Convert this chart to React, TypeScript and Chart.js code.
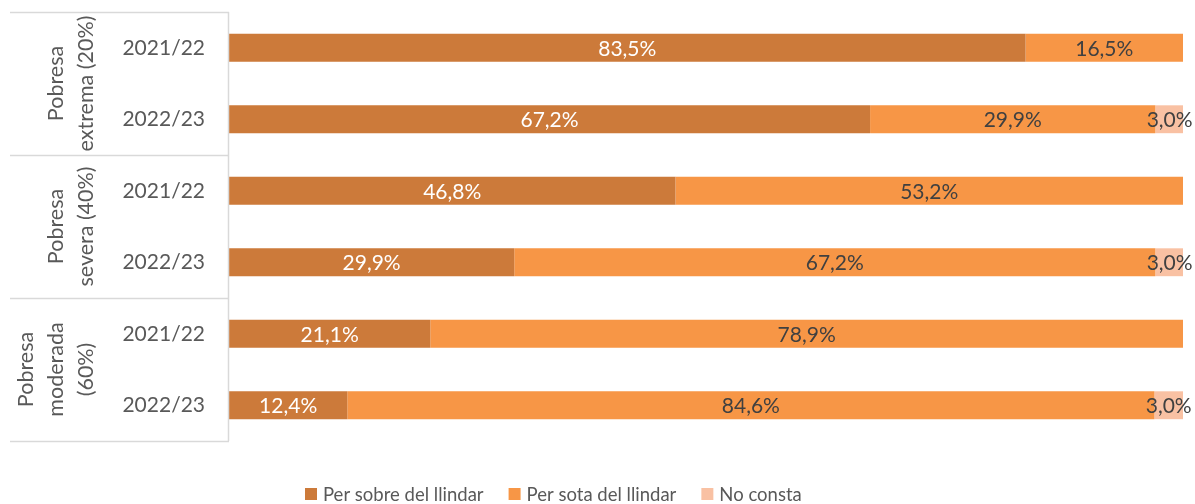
import React, { useEffect, useRef } from "react";
import { Chart, registerables } from "chart.js";

Chart.register(...registerables);

const years = ["2021/22", "2022/23", "2021/22", "2022/23", "2021/22", "2022/23"];
const groups = [
  ["Pobresa", "extrema (20%)"],
  ["Pobresa", "severa (40%)"],
  ["Pobresa", "moderada", "(60%)"],
];
const seriesNames = ["Per sobre del llindar", "Per sota del llindar", "No consta"];
const sobre = [83.5, 67.2, 46.8, 29.9, 21.1, 12.4];
const sota = [16.5, 29.9, 53.2, 67.2, 78.9, 84.6];
const noConsta = [0, 3.0, 0, 3.0, 0, 3.0];

const COLORS = ["#CC7A3A", "#F79646", "#F9C1A3"];
const FONT = "Lato";
const GRAY = "#595959";
const LINE = "#D9D9D9";

const fmt = (v: number) => v.toFixed(1).replace(".", ",") + "%";

const decorPlugin = {
  id: "decor",
  afterDatasetsDraw(chart: any) {
    const ctx = chart.ctx;
    ctx.save();
    ctx.font = `21px ${FONT}`;
    ctx.textAlign = "center";
    ctx.textBaseline = "middle";
    chart.data.datasets.forEach((ds: any, di: number) => {
      const meta = chart.getDatasetMeta(di);
      meta.data.forEach((el: any, i: number) => {
        const v = ds.data[i];
        if (!v) return;
        const cx = (el.x + el.base) / 2;
        ctx.fillStyle = di === 0 ? "#FFFFFF" : "#404040";
        ctx.fillText(fmt(v), cx, el.y + 1);
      });
    });
    ctx.restore();
  },
  afterDraw(chart: any) {
    const ctx = chart.ctx;
    const ca = chart.chartArea;
    ctx.save();
    ctx.strokeStyle = LINE;
    ctx.lineWidth = 1.5;
    ctx.beginPath();
    ctx.moveTo(ca.left - 0.5, ca.top);
    ctx.lineTo(ca.left - 0.5, ca.bottom);
    const n = years.length;
    const step = (ca.bottom - ca.top) / n;
    for (let g = 0; g <= groups.length; g++) {
      const y = Math.round(ca.top + g * 2 * step) + 0.5;
      ctx.moveTo(10, y);
      ctx.lineTo(ca.left, y);
    }
    ctx.stroke();
    ctx.fillStyle = GRAY;
    ctx.font = `21.5px ${FONT}`;
    ctx.textAlign = "center";
    ctx.textBaseline = "middle";
    groups.forEach((lines, g) => {
      const cy = ca.top + (g * 2 + 1) * step;
      const lastX = 86;
      const lh = 30;
      lines.forEach((t, li) => {
        const x = lastX - (lines.length - 1 - li) * lh;
        ctx.save();
        ctx.translate(x, cy);
        ctx.rotate(-Math.PI / 2);
        ctx.fillText(t, 0, 0);
        ctx.restore();
      });
    });
    ctx.font = `18.5px ${FONT}`;
    ctx.textBaseline = "middle";
    ctx.textAlign = "left";
    const box = 12;
    const gapBox = 6;
    const gapItem = 25;
    const widths = chart.data.datasets.map((d: any) => ctx.measureText(d.label).width);
    let x = 305;
    const ly = 494;
    chart.data.datasets.forEach((d: any, i: number) => {
      ctx.fillStyle = d.backgroundColor;
      ctx.fillRect(x, ly - box / 2, box, box);
      x += box + gapBox;
      ctx.fillStyle = GRAY;
      ctx.fillText(d.label, x, ly + 1);
      x += widths[i] + gapItem;
    });
    ctx.restore();
  },
};

export default function App() {
  const ref = useRef<HTMLCanvasElement | null>(null);
  useEffect(() => {
    document.body.style.margin = "0";
    const data = [sobre, sota, noConsta];
    const chart = new Chart(ref.current as HTMLCanvasElement, {
      type: "bar",
      data: {
        labels: years,
        datasets: seriesNames.map((name, i) => ({
          label: name,
          data: data[i],
          backgroundColor: COLORS[i],
          borderWidth: 0,
          barPercentage: 0.39,
          categoryPercentage: 1,
        })),
      },
      options: {
        indexAxis: "y",
        animation: false,
        responsive: false,
        maintainAspectRatio: false,
        layout: { padding: { top: 12, bottom: 63, right: 12, left: 0 } },
        plugins: { legend: { display: false }, tooltip: { enabled: false } },
        scales: {
          x: { stacked: true, min: 0, max: 100, display: false },
          y: {
            stacked: true,
            grid: { display: false, drawTicks: false },
            border: { display: false },
            ticks: { color: GRAY, font: { family: FONT, size: 21 }, padding: 24 },
            afterFit: (s: any) => {
              s.width = 229;
              s.paddingTop = 0;
              s.paddingBottom = 0;
            },
          },
        },
      },
      plugins: [decorPlugin],
    } as any);
    return () => chart.destroy();
  }, []);
  return (
    <div style={{ width: 1195, height: 504 }}>
      <canvas ref={ref} width={1195} height={504} style={{ display: "block" }} />
    </div>
  );
}
